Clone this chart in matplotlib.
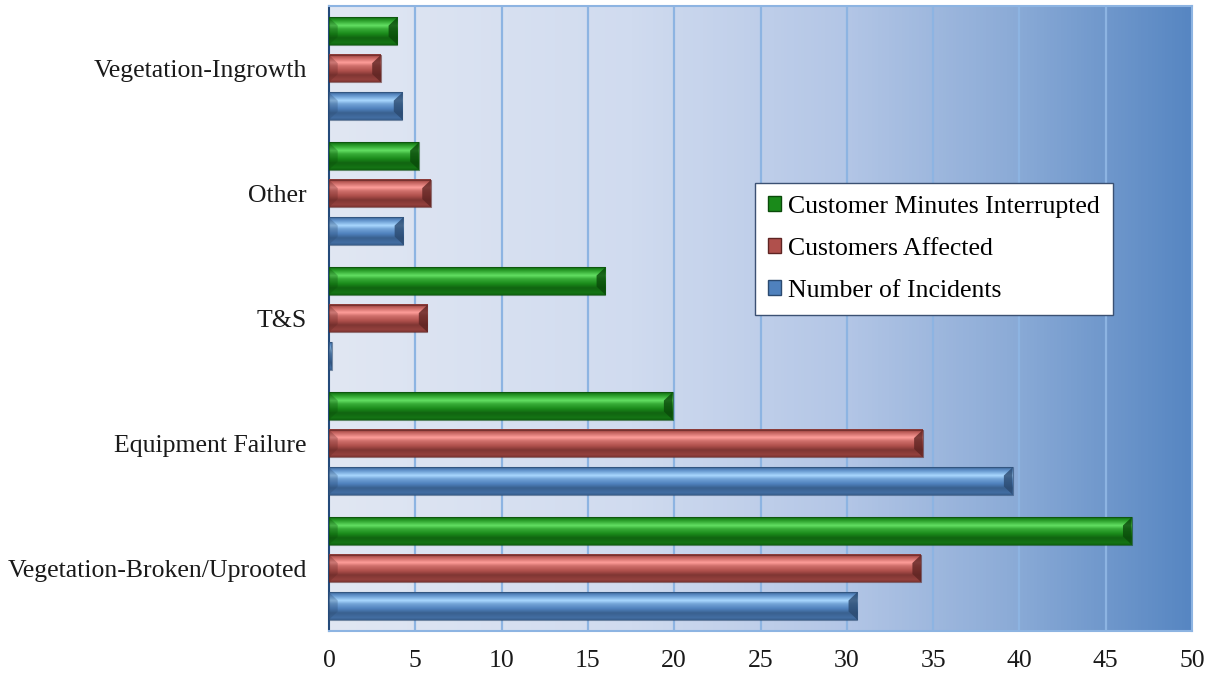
import numpy as np
import matplotlib.pyplot as plt
from matplotlib.colors import LinearSegmentedColormap, to_rgb
from matplotlib.patches import Polygon, Patch

plt.rcParams['font.family'] = ['Liberation Serif', 'DejaVu Serif']

categories = ["Vegetation-Broken/Uprooted", "Equipment Failure", "T&S",
              "Other", "Vegetation-Ingrowth"]
incidents = [30.6, 39.6, 0.15, 4.3, 4.25]
customers = [34.3, 34.4, 5.7, 5.9, 3.0]
minutes = [46.5, 19.9, 16.0, 5.2, 3.95]

series = [
    ("Number of Incidents", incidents, -0.3,
     dict(base="#4f81bd", light="#a9d8ff", dark="#2b4a70")),
    ("Customers Affected", customers, 0.0,
     dict(base="#b0504c", light="#ff9e9a", dark="#5e2422")),
    ("Customer Minutes Interrupted", minutes, 0.3,
     dict(base="#1a8a1a", light="#63e063", dark="#0a4a0a")),
]

bar_h = 0.218
bevel_x = 0.5
bevel_y = 0.065


def mix(c1, c2, t):
    c1, c2 = np.array(to_rgb(c1)), np.array(to_rgb(c2))
    return c1 * (1 - t) + c2 * t


def bevel_bar(ax, y, width, pal):
    if width <= 0:
        return
    y0, y1 = y - bar_h / 2, y + bar_h / 2
    # vertical shading profile, top row first
    stops = [
        (0.00, mix(pal["base"], pal["dark"], 0.5)),
        (0.10, mix(pal["base"], pal["light"], 0.15)),
        (0.30, pal["light"]),
        (0.42, mix(pal["base"], pal["light"], 0.4)),
        (0.60, to_rgb(pal["base"])),
        (0.75, mix(pal["base"], pal["dark"], 0.6)),
        (0.92, mix(pal["base"], pal["dark"], 0.35)),
        (1.00, mix(pal["base"], pal["dark"], 0.6)),
    ]
    cmap = LinearSegmentedColormap.from_list("b", [(p, c) for p, c in stops])
    grad = np.linspace(0, 1, 64).reshape(-1, 1)
    ax.imshow(grad, cmap=cmap, extent=(0, width, y0, y1), origin="upper",
              aspect="auto", interpolation="bilinear", zorder=3)
    bx = min(bevel_x, width / 2)
    # end caps
    left = Polygon([(0, y1), (bx, y1 - bevel_y), (bx, y0 + bevel_y), (0, y0)],
                   closed=True, facecolor=pal["dark"], alpha=0.3,
                   edgecolor="none", zorder=4)
    right = Polygon([(width, y1), (width - bx, y1 - bevel_y),
                     (width - bx, y0 + bevel_y), (width, y0)],
                    closed=True, facecolor=pal["dark"], alpha=0.8,
                    edgecolor="none", zorder=4)
    ax.add_patch(left)
    ax.add_patch(right)
    ax.add_patch(plt.Rectangle((0, y0), width, bar_h, fill=False,
                               edgecolor=pal["dark"], lw=0.8, alpha=0.6,
                               zorder=5))


fig = plt.figure(figsize=(12.12, 6.77), dpi=100)
ax = fig.add_axes([0.2715, 0.068, 0.712, 0.923])

# background gradient, light on the left to blue on the right
bg = LinearSegmentedColormap.from_list("bg", [
    (0.0, "#e1e7f3"), (0.35, "#d0dbef"), (0.6, "#b3c6e6"),
    (0.8, "#8aaad6"), (1.0, "#5686c2")])
ax.imshow(np.linspace(0, 1, 256).reshape(1, -1), cmap=bg,
          extent=(0, 50, -0.5, 4.5), aspect="auto", zorder=0)

for x in range(5, 50, 5):
    ax.axvline(x, color="#8db4e2", lw=1.6, zorder=1)

ypos = np.arange(len(categories))
for name, vals, off, pal in series:
    for y, v in zip(ypos, vals):
        bevel_bar(ax, y + off, v, pal)

ax.set_xlim(0, 50)
ax.set_ylim(-0.5, 4.5)
ax.set_xticks(range(0, 51, 5))
ax.set_yticks(ypos)
ax.set_yticklabels(categories)
ax.tick_params(axis="both", length=0, labelsize=18.5, colors="#1a1a1a")
ax.tick_params(axis="x", pad=14)
ax.tick_params(axis="y", pad=16)

for side in ["top", "right", "bottom"]:
    ax.spines[side].set_color("#8db4e2")
    ax.spines[side].set_linewidth(1.5)
ax.spines["left"].set_color("#244a7a")
ax.spines["left"].set_linewidth(1.5)

handles = [Patch(facecolor=pal["base"], edgecolor=pal["dark"], label=name)
           for name, vals, off, pal in reversed(series)]
leg = fig.legend(handles=handles, loc="upper left",
                 bbox_to_anchor=(755 / 1212, 1 - 183 / 677),
                 fontsize=18.5, frameon=True, fancybox=False, framealpha=1,
                 handlelength=0.5, handleheight=0.5, handletextpad=0.3,
                 labelspacing=0.78, borderpad=0.5, borderaxespad=0)
leg.get_frame().set_edgecolor("#3b5173")
leg.get_frame().set_linewidth(1.0)

fig.savefig("out.png", dpi=100)
